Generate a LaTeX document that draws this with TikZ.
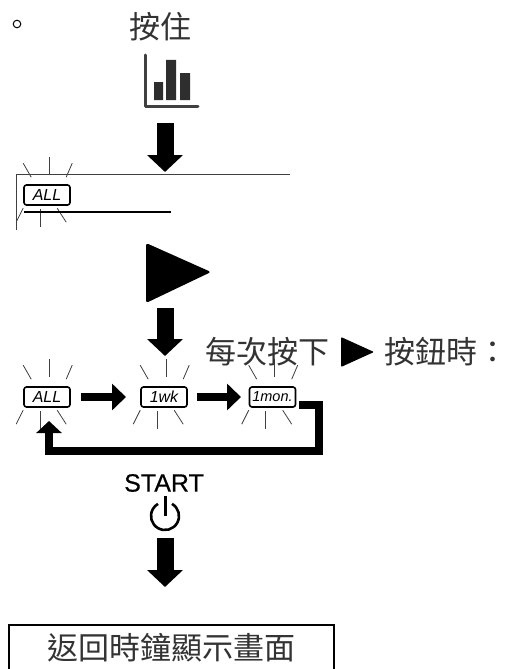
\documentclass[tikz,border=0pt]{standalone}
\usepackage{fontspec}
\setmainfont{Liberation Sans}
\newfontfamily\cjk{Noto Sans CJK TC}
\newfontfamily\startfont[FakeBold=0.4]{Liberation Sans}
\usetikzlibrary{arrows.meta}
\tikzset{
  cjktext/.style={inner sep=0pt,text=black!80,font=\cjk\fontsize{31}{31}\selectfont},
  badge/.style={draw,line width=1.6pt,rounded corners=2.5pt,minimum width=46pt,minimum height=20pt,inner sep=0pt,font=\fontsize{16}{16}\selectfont\itshape},
  ray/.style={line width=0.8pt,black!75},
  fatdown/.style={line width=17pt,-{Triangle[length=17pt,width=35pt]}},
  fatright/.style={line width=8pt,-{Triangle[length=14pt,width=26pt]}},
  fatloop/.style={line width=8pt,-{Triangle[length=12pt,width=25pt]}},
  frameline/.style={line width=0.9pt,black!75},
}
\newcommand{\blinkrays}[1]{%
  \begin{scope}[shift={(#1.north west)}]
    \draw[ray] (0,-21)--(8,-7);
    \draw[ray] (26,-27)--(26,-9);
    \draw[ray] (49,-21)--(43,-7);
    \draw[ray] (0,24)--(-7,38);
    \draw[ray] (17,25)--(17,43);
    \draw[ray] (34,24)--(43,38);
  \end{scope}}
\begin{document}
\begin{tikzpicture}[x=1pt,y=-1pt]
\useasboundingbox (0,0) rectangle (510,669);
% top
\draw[line width=1pt] (17,24) circle (3.8);
\node[cjktext] (press) at (160,27) {按住};
% chart icon
\draw[line width=3pt,black!75,line cap=round,line join=round] (145,55)--(145,106)--(198,106);
\fill[black!82] (154,82) rectangle (163,100) (166,60) rectangle (176,100) (180,73) rectangle (190,100);
\coordinate (a1s) at (165,123); \coordinate (a1e) at (165,172);
\draw[fatdown] (a1s)--(a1e);
% display frame
\draw[frameline] (290,174)--(16,174)--(16,230);
\node[badge] (all0) at (47,195) {ALL};
\blinkrays{all0}
\draw[line width=2pt] (24,212)--(171,212);
% big triangle
\fill[rounded corners=2.5pt] (146,243)--(211,272)--(146,303)--cycle;
\coordinate (a2s) at (165,308); \coordinate (a2e) at (165,356);
\draw[fatdown] (a2s)--(a2e);
% row
\node[badge] (all) at (47,397) {ALL};
\node[badge] (wk) at (164,397) {1wk};
\node[badge,font=\fontsize{14.5}{14.5}\selectfont\itshape] (mon) at (272.5,397) {1mon.};
\blinkrays{all}\blinkrays{wk}\blinkrays{mon}
\draw[fatright] (81,397)--(126,397);
\draw[fatright] (197,397)--(241,397);
\draw[fatloop,line join=miter] (299,405)--(319,405)--(319,451)--(49,451)--(49,421);
% caption
\node[cjktext,anchor=west] (every) at (205,352) {每次按下};
\fill[rounded corners=1pt] (341,337)--(374,352)--(341,367)--cycle;
\node[cjktext,anchor=west] (when) at (384,352) {按鈕時：};
% start
\node[inner sep=0pt,font=\startfont\fontsize{25}{25}\selectfont,text=black] (start) at (164,483) {START};
\draw[line width=2.6pt] (165,516) ++(-60:14) arc[start angle=-60,end angle=240,radius=14];
\draw[line width=3pt] (165,496)--(165,516);
\coordinate (a3s) at (165,538); \coordinate (a3e) at (165,587);
\draw[fatdown] (a3s)--(a3e);
% box, cut by the lower edge of the picture
\node[cjktext] (ret) at (171.5,647.5) {返回時鐘顯示畫面};
\draw[line width=1.2pt] (9,669)--(9,625)--(334,625)--(334,669);
\end{tikzpicture}
\end{document}
